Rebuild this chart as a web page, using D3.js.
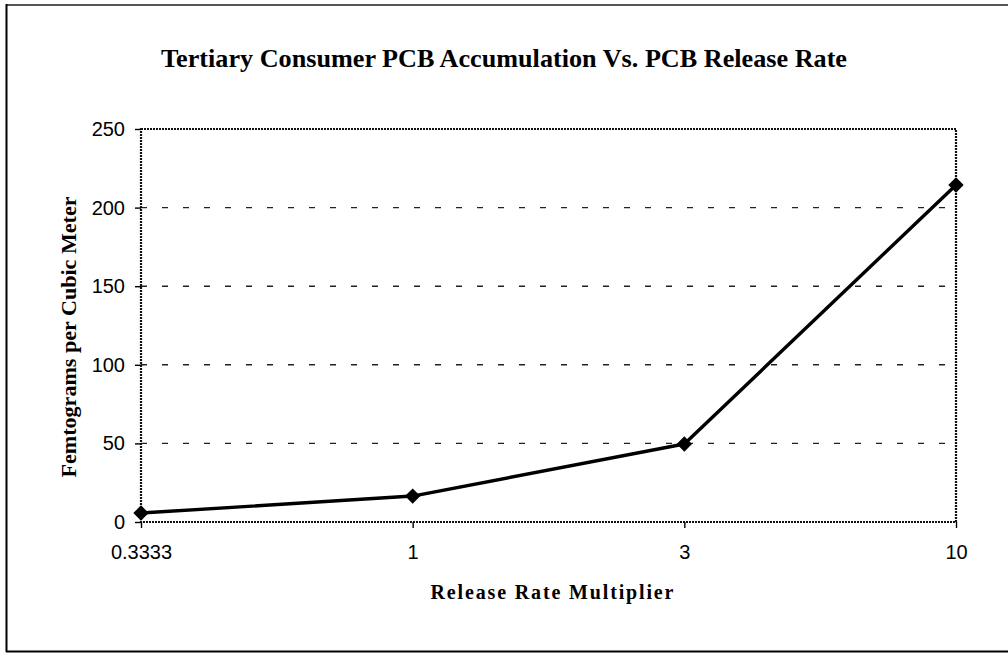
<!DOCTYPE html>
<html>
<head>
<meta charset="utf-8">
<script src="https://cdn.jsdelivr.net/npm/d3@7"></script>
<style>
  html, body { margin: 0; padding: 0; background: #fff; }
  svg { display: block; }
</style>
</head>
<body>
<svg id="chart" width="1008" height="654"></svg>
<script>
const categories = ["0.3333", "1", "3", "10"];
const values = [5.7, 16.5, 49.6, 214.4];
const yTicks = [0, 50, 100, 150, 200, 250];
const gridTicks = [50, 100, 150, 200];
const titleText = "Tertiary Consumer PCB Accumulation Vs. PCB Release Rate";
const xTitle = "Release Rate Multiplier";
const yTitle = "Femtograms per Cubic Meter";

const svg = d3.select("#chart");
const m = { left: 141, right: 956, top: 129, bottom: 522 };

// outer frame (left, top, bottom)
svg.append("line").attr("x1", 6).attr("x2", 1008).attr("y1", 5).attr("y2", 5)
  .attr("stroke", "#555").attr("stroke-width", 2);
svg.append("line").attr("x1", 6.5).attr("x2", 6.5).attr("y1", 4).attr("y2", 652)
  .attr("stroke", "#000").attr("stroke-width", 2);
svg.append("line").attr("x1", 6).attr("x2", 1008).attr("y1", 651.5).attr("y2", 651.5)
  .attr("stroke", "#000").attr("stroke-width", 2);

const x = d3.scalePoint().domain(categories).range([m.left, m.right]);
const y = d3.scaleLinear().domain([0, 250]).range([m.bottom, m.top]);

// gridlines
svg.append("g").selectAll("line").data(gridTicks).join("line")
  .attr("x1", m.left).attr("x2", m.right)
  .attr("y1", d => y(d)).attr("y2", d => y(d))
  .attr("stroke", "#222").attr("stroke-width", 1.4)
  .attr("stroke-dasharray", "6,15");

// plot border (dotted)
svg.append("rect").attr("x", m.left).attr("y", m.top)
  .attr("width", m.right - m.left).attr("height", m.bottom - m.top)
  .attr("fill", "none").attr("stroke", "#111").attr("stroke-width", 2.2)
  .attr("stroke-dasharray", "2,1");

// y axis
const yAxis = d3.axisLeft(y).tickValues(yTicks).tickSize(6).tickPadding(10);
const gy = svg.append("g").attr("transform", `translate(${m.left},0)`).call(yAxis);
gy.select(".domain").remove();
gy.selectAll(".tick line").attr("stroke", "#000").attr("stroke-width", 1.4);
gy.selectAll(".tick text").attr("font-family", "'Liberation Sans', Arial, sans-serif")
  .attr("font-size", 20).attr("fill", "#000");

// x axis
const xAxis = d3.axisBottom(x).tickSize(6).tickPadding(17);
const gx = svg.append("g").attr("transform", `translate(0,${m.bottom})`).call(xAxis);
gx.select(".domain").remove();
gx.selectAll(".tick line").attr("stroke", "#000").attr("stroke-width", 1.4);
gx.selectAll(".tick text").attr("font-family", "'Liberation Sans', Arial, sans-serif")
  .attr("font-size", 20).attr("fill", "#000");

// series line
const line = d3.line().x((d, i) => x(categories[i])).y(d => y(d));
svg.append("path").datum(values).attr("d", line)
  .attr("fill", "none").attr("stroke", "#000").attr("stroke-width", 3.4)
  .attr("stroke-linejoin", "round");

// markers
svg.append("g").selectAll("path").data(values).join("path")
  .attr("d", d3.symbol().type(d3.symbolDiamond2).size(150))
  .attr("transform", (d, i) => `translate(${x(categories[i])},${y(d)})`)
  .attr("fill", "#000");

// titles
svg.append("text").attr("x", 504).attr("y", 67).attr("text-anchor", "middle")
  .attr("font-family", "'Liberation Serif', 'Times New Roman', serif")
  .attr("font-weight", "bold").attr("font-size", 26)
  .attr("textLength", 686).attr("lengthAdjust", "spacingAndGlyphs")
  .text(titleText);

svg.append("text").attr("x", 552).attr("y", 599).attr("text-anchor", "middle")
  .attr("font-family", "'Liberation Serif', 'Times New Roman', serif")
  .attr("font-weight", "bold").attr("font-size", 20)
  .attr("textLength", 243).attr("lengthAdjust", "spacing")
  .text(xTitle);

svg.append("text")
  .attr("transform", `translate(76,337) rotate(-90)`)
  .attr("text-anchor", "middle")
  .attr("font-family", "'Liberation Serif', 'Times New Roman', serif")
  .attr("font-weight", "bold").attr("font-size", 20)
  .attr("textLength", 281).attr("lengthAdjust", "spacingAndGlyphs")
  .text(yTitle);
</script>
</body>
</html>
